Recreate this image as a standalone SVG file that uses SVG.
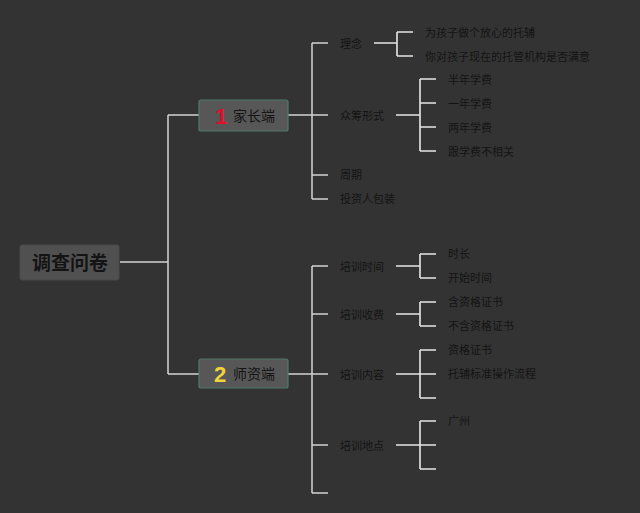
<svg xmlns="http://www.w3.org/2000/svg" width="640" height="513" viewBox="0 0 640 513">
<style>
.bg{fill:#333333}
.root{fill:#505050;stroke:#4a4a4a;stroke-width:1}
.br{fill:#575757;stroke:#4f7a68;stroke-width:1.2}
.t{font-family:"Noto Sans CJK SC","Liberation Sans",sans-serif;fill:#141414}
.rt{font-size:19px;font-weight:bold}
.bt{font-size:14px}
.lt{font-size:11px}
.num{font-family:"Liberation Sans","DejaVu Sans",sans-serif;font-weight:bold;font-size:22px}
.c{fill:none;stroke:#d4d4d4;stroke-width:1.5}
.c2{fill:none;stroke:#e6e6e6;stroke-width:1.6}
</style>
<rect class="bg" x="0" y="0" width="640" height="513"/>
<g id="connectors">
<path class="c" d="M120 262H168M168 115V374M168 115H199M168 374H199"/>
<path class="c" d="M288 115H312M312 43V199M312 43H328M312 175H328M312 199H328M312 115H328"/>
<path class="c2" d="M374 43H397M397 32V56M397 32H413M397 56H413"/>
<path class="c2" d="M396 115H420M420 79V151M420 79H436M420 103H436M420 127H436M420 151H436"/>
<path class="c" d="M288 374H312M312 266V493M312 266H328M312 314H328M312 374H328M312 445H328M312 493H328"/>
<path class="c2" d="M396 266H420M420 254V278M420 254H436M420 278H436"/>
<path class="c2" d="M396 314H420M420 302V326M420 302H436M420 326H436"/>
<path class="c2" d="M396 374H420M420 350V398M420 350H436M420 374H436M420 398H436"/>
<path class="c2" d="M396 445H420M420 421V469M420 421H436M420 445H436M420 469H436"/>
</g>
<g id="root">
<rect class="root" x="20" y="245" width="99" height="35" rx="2"/>
<text class="t rt" x="70" y="269.5" text-anchor="middle">调查问卷</text>
</g>
<g id="branch1">
<rect class="br" x="199" y="100" width="89" height="31" rx="2"/>
<text class="num" x="215" y="124" fill="#e0102a">1</text>
<text class="t bt" x="233" y="121">家长端</text>
</g>
<g id="branch2">
<rect class="br" x="199" y="359" width="89" height="29" rx="2"/>
<text class="num" x="214" y="382" fill="#f2d43a">2</text>
<text class="t bt" x="233" y="379">师资端</text>
</g>
<g id="n-linian"><text class="t lt" x="340" y="48">理念</text></g>
<g id="n-zhongchou"><text class="t lt" x="340" y="120">众筹形式</text></g>
<g id="n-zhouqi"><text class="t lt" x="340" y="179">周期</text></g>
<g id="n-touzi"><text class="t lt" x="340" y="203">投资人包装</text></g>
<g id="n-l1"><text class="t lt" x="425" y="37">为孩子做个放心的托辅</text></g>
<g id="n-l2"><text class="t lt" x="425" y="61">你对孩子现在的托管机构是否满意</text></g>
<g id="n-z1"><text class="t lt" x="448" y="84">半年学费</text></g>
<g id="n-z2"><text class="t lt" x="448" y="108">一年学费</text></g>
<g id="n-z3"><text class="t lt" x="448" y="132">两年学费</text></g>
<g id="n-z4"><text class="t lt" x="448" y="156">跟学费不相关</text></g>
<g id="n-pxsj"><text class="t lt" x="340" y="271">培训时间</text></g>
<g id="n-pxsf"><text class="t lt" x="340" y="319">培训收费</text></g>
<g id="n-pxnr"><text class="t lt" x="340" y="379">培训内容</text></g>
<g id="n-pxdd"><text class="t lt" x="340" y="450">培训地点</text></g>
<g id="n-s1"><text class="t lt" x="448" y="258">时长</text></g>
<g id="n-s2"><text class="t lt" x="448" y="282">开始时间</text></g>
<g id="n-f1"><text class="t lt" x="448" y="306">含资格证书</text></g>
<g id="n-f2"><text class="t lt" x="448" y="330">不含资格证书</text></g>
<g id="n-n1"><text class="t lt" x="448" y="354">资格证书</text></g>
<g id="n-n2"><text class="t lt" x="448" y="378">托辅标准操作流程</text></g>
<g id="n-d1"><text class="t lt" x="448" y="425">广州</text></g>
</svg>
